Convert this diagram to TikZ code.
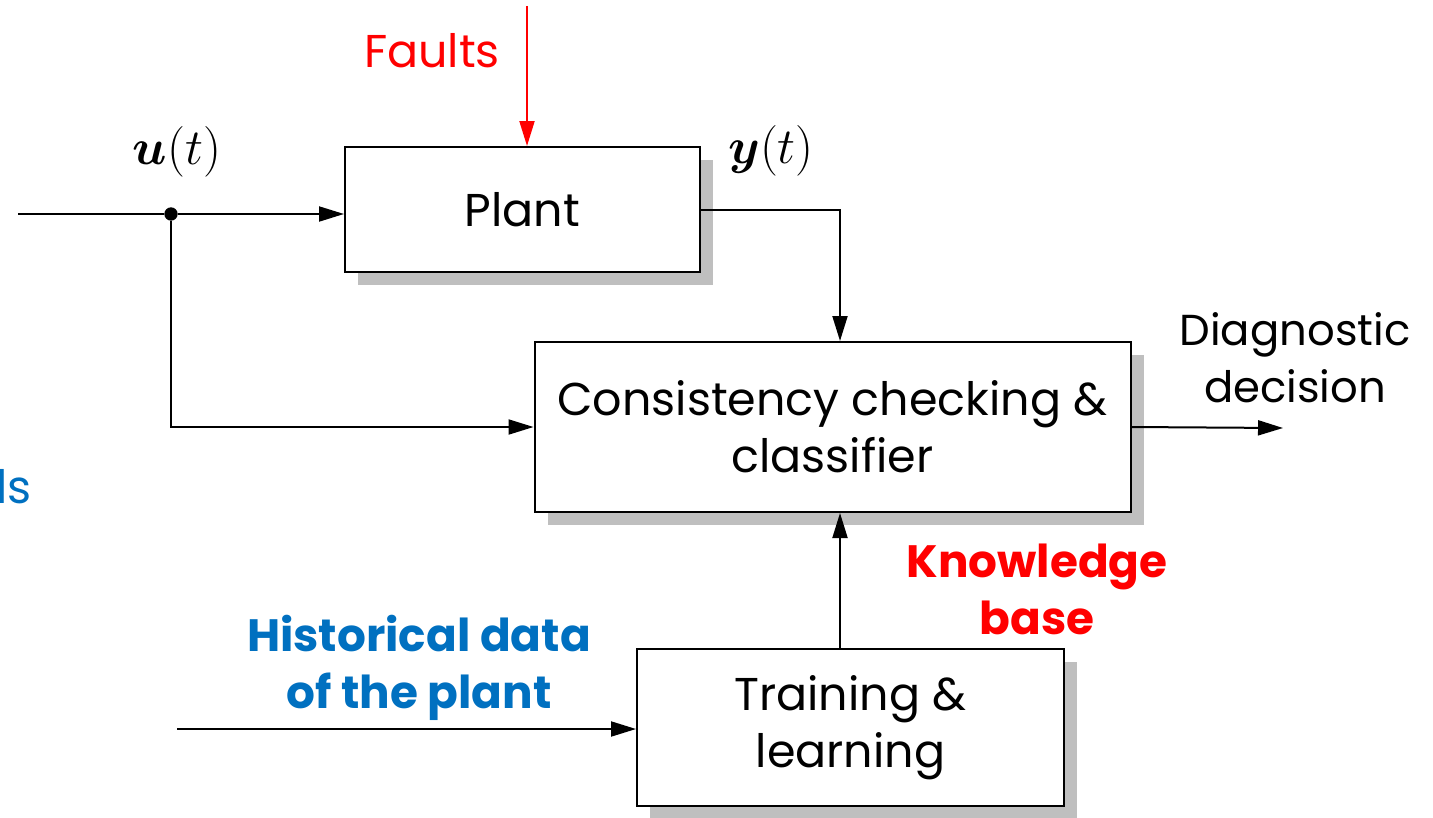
\RequirePackage{fix-cm}
\documentclass[tikz,border=0pt]{standalone}
\usepackage{fontspec}
\setmainfont{Poppins}
\usepackage{bm}
\usetikzlibrary{arrows.meta,shadows,calc}
\definecolor{shadowgray}{HTML}{BFBFBF}
\definecolor{myblue}{HTML}{0070C0}
\definecolor{myred}{HTML}{FF0000}
\tikzset{
  blockbox/.style={draw=black, line width=1.5pt, fill=white, inner sep=0pt, align=center,
    font=\fontsize{34.5pt}{42.75pt}\selectfont,
    drop shadow={shadow xshift=9.75pt, shadow yshift=-9.75pt, fill=shadowgray, opacity=1}},
  conn/.style={line width=1.5pt, draw=black},
  arr/.style={conn, -{Triangle[length=18.75pt, width=11.25pt]}},
  junction/.style={circle, fill=black, inner sep=0pt, minimum size=10pt},
  plainlbl/.style={inner sep=0pt, align=center, font=\fontsize{34.5pt}{42.75pt}\selectfont},
  boldlbl/.style={inner sep=0pt, align=center, font=\fontsize{34pt}{42.75pt}\selectfont\bfseries},
  mathlbl/.style={inner sep=0pt, font=\fontsize{38pt}{46pt}\selectfont},
}
\begin{document}
\begin{tikzpicture}[x=0.75pt, y=-0.75pt]
\path[use as bounding box] (0,0) rectangle (1433,817);

\node[blockbox, minimum width=266.25pt, minimum height=93.75pt] (plant) at (522.5,209.5) {Plant};
\node[blockbox, minimum width=447pt, minimum height=127.5pt] (cons) at (832.5,427) {Consistency checking \&\\classifier};
\node[blockbox, minimum width=320.25pt, minimum height=117.75pt] (train) at (850.5,727.5) {Training \&\\learning};

\coordinate (in) at (18,214);
\node[junction] (j) at (171,214) {};
\coordinate (kx) at (840,0);
\coordinate (out) at (1283,428);
\coordinate (ftop) at (527,6);
\coordinate (hin) at (177,729);

\draw[conn] (in) -- (j);
\draw[arr] (j) -- (j -| plant.west);
\draw[arr] (j) |- (cons.west);
\draw[arr] (plant.east) -| (kx |- cons.north);
\draw[arr] (kx |- train.north) -- (kx |- cons.south);
\draw[arr] (cons.east) -- (out);
\draw[arr, draw=myred] (ftop) -- (ftop |- plant.north);
\draw[arr] (hin) -- (hin -| train.west);

\node[plainlbl, text=myred, anchor=base] (faults) at (432,68) {Faults};
\node[mathlbl, anchor=base] (ulbl) at (177,164) {$\bm{u}(t)$};
\node[mathlbl, anchor=base] (ylbl) at (771,163) {$\bm{y}(t)$};
\node[plainlbl, font=\fontsize{32.5pt}{42.75pt}\selectfont] (diag) at (1295,358) {Diagnostic\\decision};
\node[boldlbl, text=myred] (kb) at (1037,589) {Knowledge\\base};
\node[boldlbl, text=myblue] (hist) at (419,668) {Historical data\\of the plant};
\node[plainlbl, text=myblue, anchor=base east] (ls) at (32,503) {ls};
\end{tikzpicture}
\end{document}
